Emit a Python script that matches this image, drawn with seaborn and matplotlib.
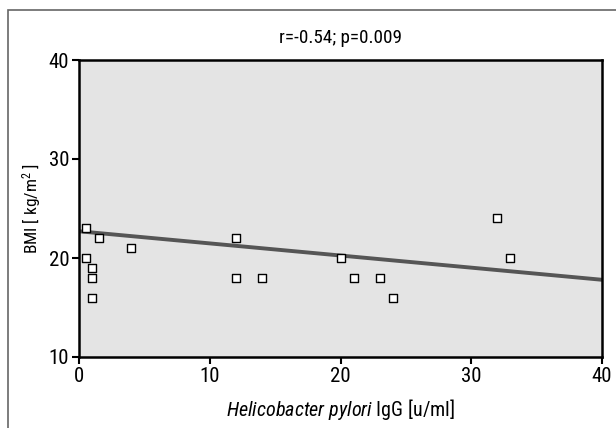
import matplotlib
matplotlib.use("Agg")
import matplotlib.pyplot as plt
from matplotlib.patches import Rectangle
import seaborn as sns
import pandas as pd

# Values
igg = [0.5, 0.5, 1, 1, 1, 1.5, 4, 12, 12, 14, 20, 21, 23, 24, 32, 33]
bmi = [23, 20, 19, 18, 16, 22, 21, 22, 18, 18, 20, 18, 18, 16, 24, 20]
fit_x = [0, 40]
fit_y = [22.7, 17.8]
x_ticks = [0, 10, 20, 30, 40]
y_ticks = [10, 20, 30, 40]

sns.set_theme(style="ticks")
plt.rcParams['font.family'] = ['Roboto Condensed', 'DejaVu Sans']
plt.rcParams['mathtext.fontset'] = 'custom'
plt.rcParams['mathtext.rm'] = 'Roboto Condensed'
plt.rcParams['mathtext.it'] = 'Roboto Condensed:italic'
plt.rcParams['text.color'] = 'black'
plt.rcParams['axes.labelcolor'] = 'black'
plt.rcParams['xtick.color'] = 'black'
plt.rcParams['ytick.color'] = 'black'

df = pd.DataFrame({"igg": igg, "bmi": bmi})
fit = pd.DataFrame({"x": fit_x, "y": fit_y})

fig = plt.figure(figsize=(6.16, 4.28), dpi=100)
ax = fig.add_axes([79 / 616, 1 - 357 / 428, 523 / 616, 297 / 428])
ax.set_facecolor("#e4e4e4")

# outer frame around the whole panel
fig.patches.append(Rectangle((7.5 / 616, -0.05), 1.1, 1 - 10 / 428 + 0.05,
                             transform=fig.transFigure, fill=False,
                             edgecolor="#666666", linewidth=1.2))

sns.lineplot(data=fit, x="x", y="y", ax=ax, color="#555555", linewidth=2.8, zorder=2)
sns.scatterplot(data=df, x="igg", y="bmi", ax=ax, marker="s", s=28,
                facecolor="white", edgecolor="black", linewidth=1.0, zorder=3)

ax.set_xlim(0, 40)
ax.set_ylim(10, 40)
ax.set_xticks(x_ticks)
ax.set_yticks(y_ticks)
ax.tick_params(labelsize=15, width=1.5, length=5, pad=2)
for sp in ax.spines.values():
    sp.set_linewidth(1.8)
    sp.set_color("black")
    sp.set_visible(True)

ax.set_xlabel("$\\it{Helicobacter\\ pylori}$ IgG [u/ml]", fontsize=14.5, labelpad=8)
ax.set_ylabel("BMI [ kg/m$^2$ ]", fontsize=12.5, labelpad=4)
ax.set_title("r=-0.54; p=0.009", fontsize=13.8, pad=12)

fig.savefig("out.png", dpi=100)
